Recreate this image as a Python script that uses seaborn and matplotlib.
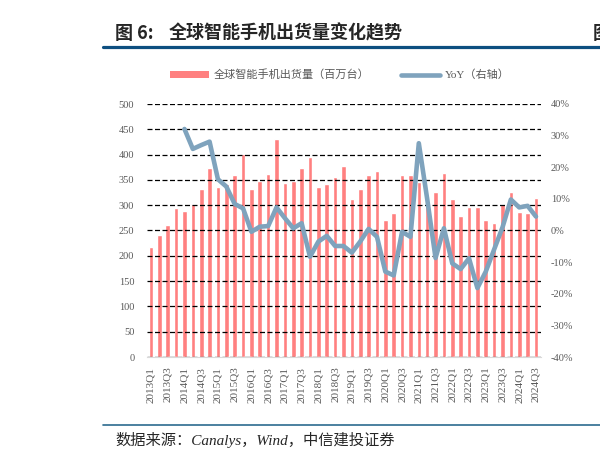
import numpy as np
import pandas as pd
import matplotlib.pyplot as plt
import seaborn as sns
from matplotlib.patches import Patch
from matplotlib.lines import Line2D
from matplotlib.ticker import FuncFormatter

# quarterly data
quarters = ["2013Q1", "2013Q2", "2013Q3", "2013Q4", "2014Q1", "2014Q2", "2014Q3", "2014Q4",
            "2015Q1", "2015Q2", "2015Q3", "2015Q4", "2016Q1", "2016Q2", "2016Q3", "2016Q4",
            "2017Q1", "2017Q2", "2017Q3", "2017Q4", "2018Q1", "2018Q2", "2018Q3", "2018Q4",
            "2019Q1", "2019Q2", "2019Q3", "2019Q4", "2020Q1", "2020Q2", "2020Q3", "2020Q4",
            "2021Q1", "2021Q2", "2021Q3", "2021Q4", "2022Q1", "2022Q2", "2022Q3", "2022Q4",
            "2023Q1", "2023Q2", "2023Q3", "2023Q4", "2024Q1", "2024Q2", "2024Q3"]

shipments = [218, 241, 261, 294, 288, 303, 333, 374, 335, 341, 360, 401,
             333, 348, 362, 431, 344, 347, 374, 395, 335, 342, 356, 377,
             312, 332, 359, 368, 271, 285, 360, 360, 346, 316, 327, 363,
             312, 279, 296, 296, 271, 264, 302, 327, 287, 285, 315]

# YoY starts at 2014Q1
yoy = [32.1, 25.8, 27.0, 28.1, 16.2, 13.9, 8.4, 7.0,
       -0.4, 1.2, 1.4, 7.3, 3.9, 0.7, 2.3, -8.3,
       -3.5, -1.7, -4.9, -4.9, -7.0, -3.5, 0.5, -2.0,
       -13.0, -14.2, -0.4, -2.0, 27.6, 10.0, -8.7, 0.7,
       -10.4, -12.2, -8.8, -18.2, -13.0, -6.0, 1.0, 9.8,
       7.3, 7.8, 4.4]

bar_color = "#ff8080"
line_color = "#7fa3bd"
grey = "#595959"

df = pd.DataFrame({"quarter": quarters, "shipments": shipments})
df["pos"] = np.arange(len(quarters))
df_yoy = pd.DataFrame({"pos": df["pos"].values[len(quarters) - len(yoy):], "yoy": yoy})

sns.set_style("white")
plt.rcParams["font.family"] = ["Liberation Serif", "Noto Sans CJK SC"]

fig = plt.figure(figsize=(6, 4.61), dpi=100)
ax = fig.add_axes([146.8 / 600, 1 - 357 / 461, (541 - 146.8) / 600, (357 - 104) / 461])

sns.barplot(data=df, x="pos", y="shipments", color=bar_color, width=0.55,
            saturation=1, ax=ax, native_scale=True)
ax.set_xlim(-0.5, 46.6)
ax.set_ylim(0, 500)
ax.set_yticks(range(0, 501, 50))
ax.set_xticks(range(0, len(quarters), 2))
ax.set_xticklabels(quarters[::2], rotation=90)
ax.set_xlabel("")
ax.set_ylabel("")
ax.set_axisbelow(False)
ax.grid(axis="y", color="black", linestyle=(0, (4, 2)), linewidth=0.9)
ax.grid(axis="x", visible=False)
for s in ["top", "left", "right"]:
    ax.spines[s].set_visible(False)
ax.spines["bottom"].set_color("#d9d9d9")
ax.tick_params(axis="y", length=0, pad=9, labelsize=7.5, labelcolor=grey)
ax.tick_params(axis="x", length=0, pad=7, labelsize=8, labelcolor=grey)

ax2 = ax.twinx()
sns.lineplot(data=df_yoy, x="pos", y="yoy", color=line_color, linewidth=3.3, ax=ax2)
ax2.set_ylim(-40, 40)
ax2.set_yticks(range(-40, 41, 10))
ax2.yaxis.set_major_formatter(FuncFormatter(lambda v, p: f"{v:.0f}%"))
ax2.set_ylabel("")
ax2.grid(False)
for s in ["top", "left", "right", "bottom"]:
    ax2.spines[s].set_visible(False)
ax2.tick_params(axis="y", length=0, pad=7, labelsize=7.5, labelcolor=grey)
ax2.set_xlim(-0.5, 46.6)

handles = [Patch(facecolor=bar_color, edgecolor="none"),
           Line2D([], [], color=line_color, linewidth=3.3)]
labels = ["全球智能手机出货量（百万台）", "YoY（右轴）"]
fig.legend(handles, labels, loc="center", bbox_to_anchor=(340 / 600, 1 - 75 / 461),
           ncol=2, frameon=False, fontsize=8, labelcolor=grey,
           handlelength=3.5, handleheight=0.55, handletextpad=0.45, columnspacing=2.8)

# header and footer
fig.text(115 / 600, 1 - 33 / 461, "图 6:", fontsize=13,
         fontweight="bold", family=["Noto Sans CJK SC"], va="center", ha="left")
fig.text(169 / 600, 1 - 33 / 461, "全球智能手机出货量变化趋势", fontsize=13,
         fontweight="bold", family=["Noto Sans CJK SC"], va="center", ha="left")
fig.text(593 / 600, 1 - 33 / 461, "图", fontsize=13, fontweight="bold",
         family=["Noto Sans CJK SC"], va="center", ha="left")
fig.add_artist(plt.Line2D([103 / 600, 1], [1 - 47 / 461] * 2, color="#0d4f80", linewidth=2.3))
fig.add_artist(plt.Line2D([103 / 600, 1], [1 - 425 / 461] * 2, color="#2c6b8f", linewidth=1.2))
fig.text(115 / 600, 1 - 440 / 461, "数据来源：Canalys，Wind，中信建投证券", fontsize=11,
         style="italic", va="center", ha="left")

fig.savefig("out.png", dpi=100)
